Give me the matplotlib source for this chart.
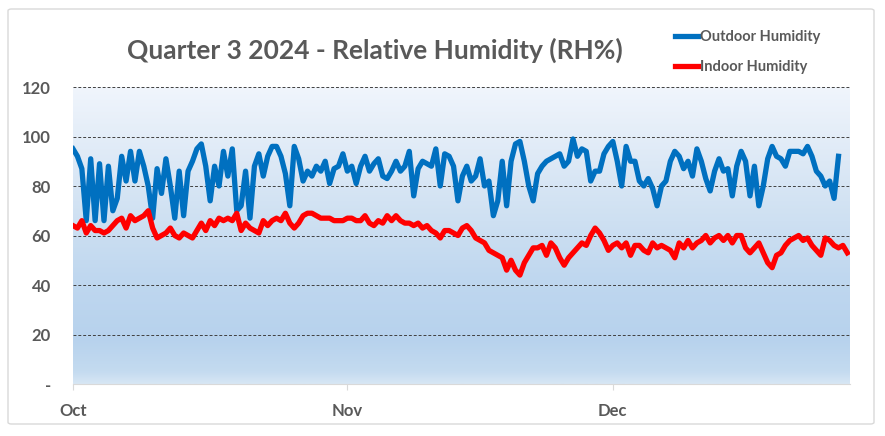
import numpy as np
import pandas as pd
import matplotlib
matplotlib.use("Agg")
import matplotlib.pyplot as plt
import matplotlib.dates as mdates
from matplotlib.colors import LinearSegmentedColormap
from matplotlib.patches import FancyBboxPatch

# 数据: 每12小时一个读数, 从 2024-10-01 开始
outdoor = [
    95, 92, 87, 66, 91, 66, 89, 66, 88, 70, 75, 92, 82, 94, 82, 94, 88, 80, 67, 87,
    77, 91, 80, 67, 86, 68, 86, 90, 95, 97,
    88, 74, 88, 80, 94, 84, 95, 70, 72, 86, 67, 88, 93, 84, 92, 96, 96, 92, 85, 72,
    96, 91, 82, 86, 84, 88, 86, 90, 81,
    87, 88, 93, 86, 88, 81, 88, 92, 86, 89, 91, 84, 83, 86, 90, 86, 88, 94, 76, 87,
    90, 89, 88, 95, 80, 93, 92, 88, 74, 84,
    88, 82, 84, 91, 80, 82, 68, 74, 90, 72, 90, 97, 98, 90, 80, 74, 85, 88, 90, 91,
    92, 93, 88, 90, 99, 92, 95, 94, 82,
    86, 86, 93, 96, 98, 90, 80, 96, 90, 90, 82, 80, 83, 79, 72, 80, 82, 90, 94, 92,
    87, 90, 84, 95, 90, 83, 78, 86, 91, 86,
    87, 76, 88, 94, 90, 76, 88, 72, 80, 91, 96, 92, 91, 88, 94, 94, 94, 93, 96, 92,
    86, 84, 80, 82, 75, 92,
]
indoor = [
    64, 63, 66, 61, 64, 62, 62, 61, 62, 64, 66, 67, 63, 68, 66, 67, 68, 70, 63, 59,
    60, 61, 63, 60, 59, 61, 60, 59, 62, 65,
    62, 66, 64, 67, 66, 67, 66, 69, 62, 65, 63, 62, 61, 66, 64, 66, 67, 66, 69, 65,
    63, 65, 68, 69, 69, 68, 67, 67, 67,
    66, 66, 66, 67, 67, 66, 66, 68, 65, 64, 66, 65, 68, 66, 68, 66, 65, 65, 64, 65,
    63, 64, 62, 61, 59, 62, 62, 61, 60, 63,
    64, 62, 59, 58, 57, 54, 53, 52, 51, 46, 50, 46, 44, 49, 52, 55, 55, 56, 52, 57,
    55, 51, 48, 51, 53, 55, 57, 56, 60,
    63, 61, 58, 54, 56, 57, 55, 57, 52, 56, 56, 54, 53, 57, 55, 56, 55, 54, 51, 57,
    55, 58, 55, 57, 58, 60, 57, 59, 60, 58,
    60, 57, 60, 60, 55, 53, 55, 57, 53, 49, 47, 52, 53, 56, 58, 59, 60, 58, 59, 56,
    54, 52, 59, 58, 56, 55, 56, 53,
]
start = pd.Timestamp("2024-10-01")
t_out = pd.date_range(start, periods=len(outdoor), freq="12h")
t_in = pd.date_range(start, periods=len(indoor), freq="12h")
month_ticks = pd.to_datetime(["2024-10-01", "2024-11-01", "2024-12-01"])
month_labels = ["Oct", "Nov", "Dec"]
y_ticks = [0, 20, 40, 60, 80, 100, 120]
y_labels = ["-", "20", "40", "60", "80", "100", "120"]

grey = "#595959"
plt.rcParams['font.family'] = ['Lato', 'DejaVu Sans']

fig = plt.figure(figsize=(8.85, 4.36), dpi=100)
fig.patch.set_facecolor("white")

# 外框
frame = FancyBboxPatch((8 / 885, 12 / 436), 866 / 885, 415 / 436,
                       boxstyle="round,pad=0,rounding_size=0.004",
                       transform=fig.transFigure, facecolor="white",
                       edgecolor="#d9d9d9", linewidth=1.0, zorder=-10)
fig.patches.append(frame)

ax = fig.add_axes([73 / 885, 1 - 384 / 436, 777 / 885, 297 / 436])
ax.set_facecolor("none")

x0 = start
x1 = start + pd.Timedelta(days=87.8)
ax.set_xlim(x0, x1)
ax.set_ylim(0, 120)

# 渐变背景
cmap = LinearSegmentedColormap.from_list("bg", [
    (0.0, "#d7e6f4"), (0.04, "#c4dbf0"), (0.15, "#b7d2ed"), (0.35, "#bfd7ef"),
    (0.55, "#cee0f2"), (0.75, "#dde9f6"), (1.0, "#f0f5fc")])
grad = np.linspace(0, 1, 256).reshape(-1, 1)
ax.imshow(grad, extent=[mdates.date2num(x0), mdates.date2num(x1), 0, 120],
          origin="lower", aspect="auto", cmap=cmap, zorder=0)

# 网格线
for v in y_ticks[1:]:
    ax.axhline(v, color="#404040", linewidth=0.7, linestyle=(0, (3, 2)), zorder=1)

ax.plot(t_out, outdoor, color="#0070c0", linewidth=3.8, label="Outdoor Humidity",
        zorder=3, solid_joinstyle="round")
ax.plot(t_in, indoor, color="#ff0000", linewidth=3.8, label="Indoor Humidity",
        zorder=4, solid_joinstyle="round")

for s in ["top", "right", "left"]:
    ax.spines[s].set_visible(False)
ax.spines["bottom"].set_color("#d9d9d9")

ax.set_xticks(month_ticks)
ax.set_xticklabels(month_labels)
ax.set_yticks(y_ticks)
ax.set_yticklabels(y_labels)
ax.tick_params(axis="x", length=4, color="#d9d9d9", pad=10, labelsize=12, labelcolor=grey)
ax.tick_params(axis="y", length=0, pad=16, labelsize=12, labelcolor=grey)
for lab in ax.get_xticklabels() + ax.get_yticklabels():
    lab.set_fontweight("bold")

# 标题
fig.text(375 / 885, 1 - 50 / 436, "Quarter 3 2024 - Relative Humidity (RH%)",
         ha="center", va="center", fontsize=19, fontweight="bold", color=grey)

# 图例
leg = fig.legend(loc="upper left", bbox_to_anchor=(662 / 885, 1 - 17 / 436),
                 frameon=False, handlelength=1.6, handletextpad=0.1,
                 labelspacing=1.1, prop={"size": 10.5, "weight": "bold"})
for txt in leg.get_texts():
    txt.set_color(grey)

plt.savefig("out.png", dpi=100)
